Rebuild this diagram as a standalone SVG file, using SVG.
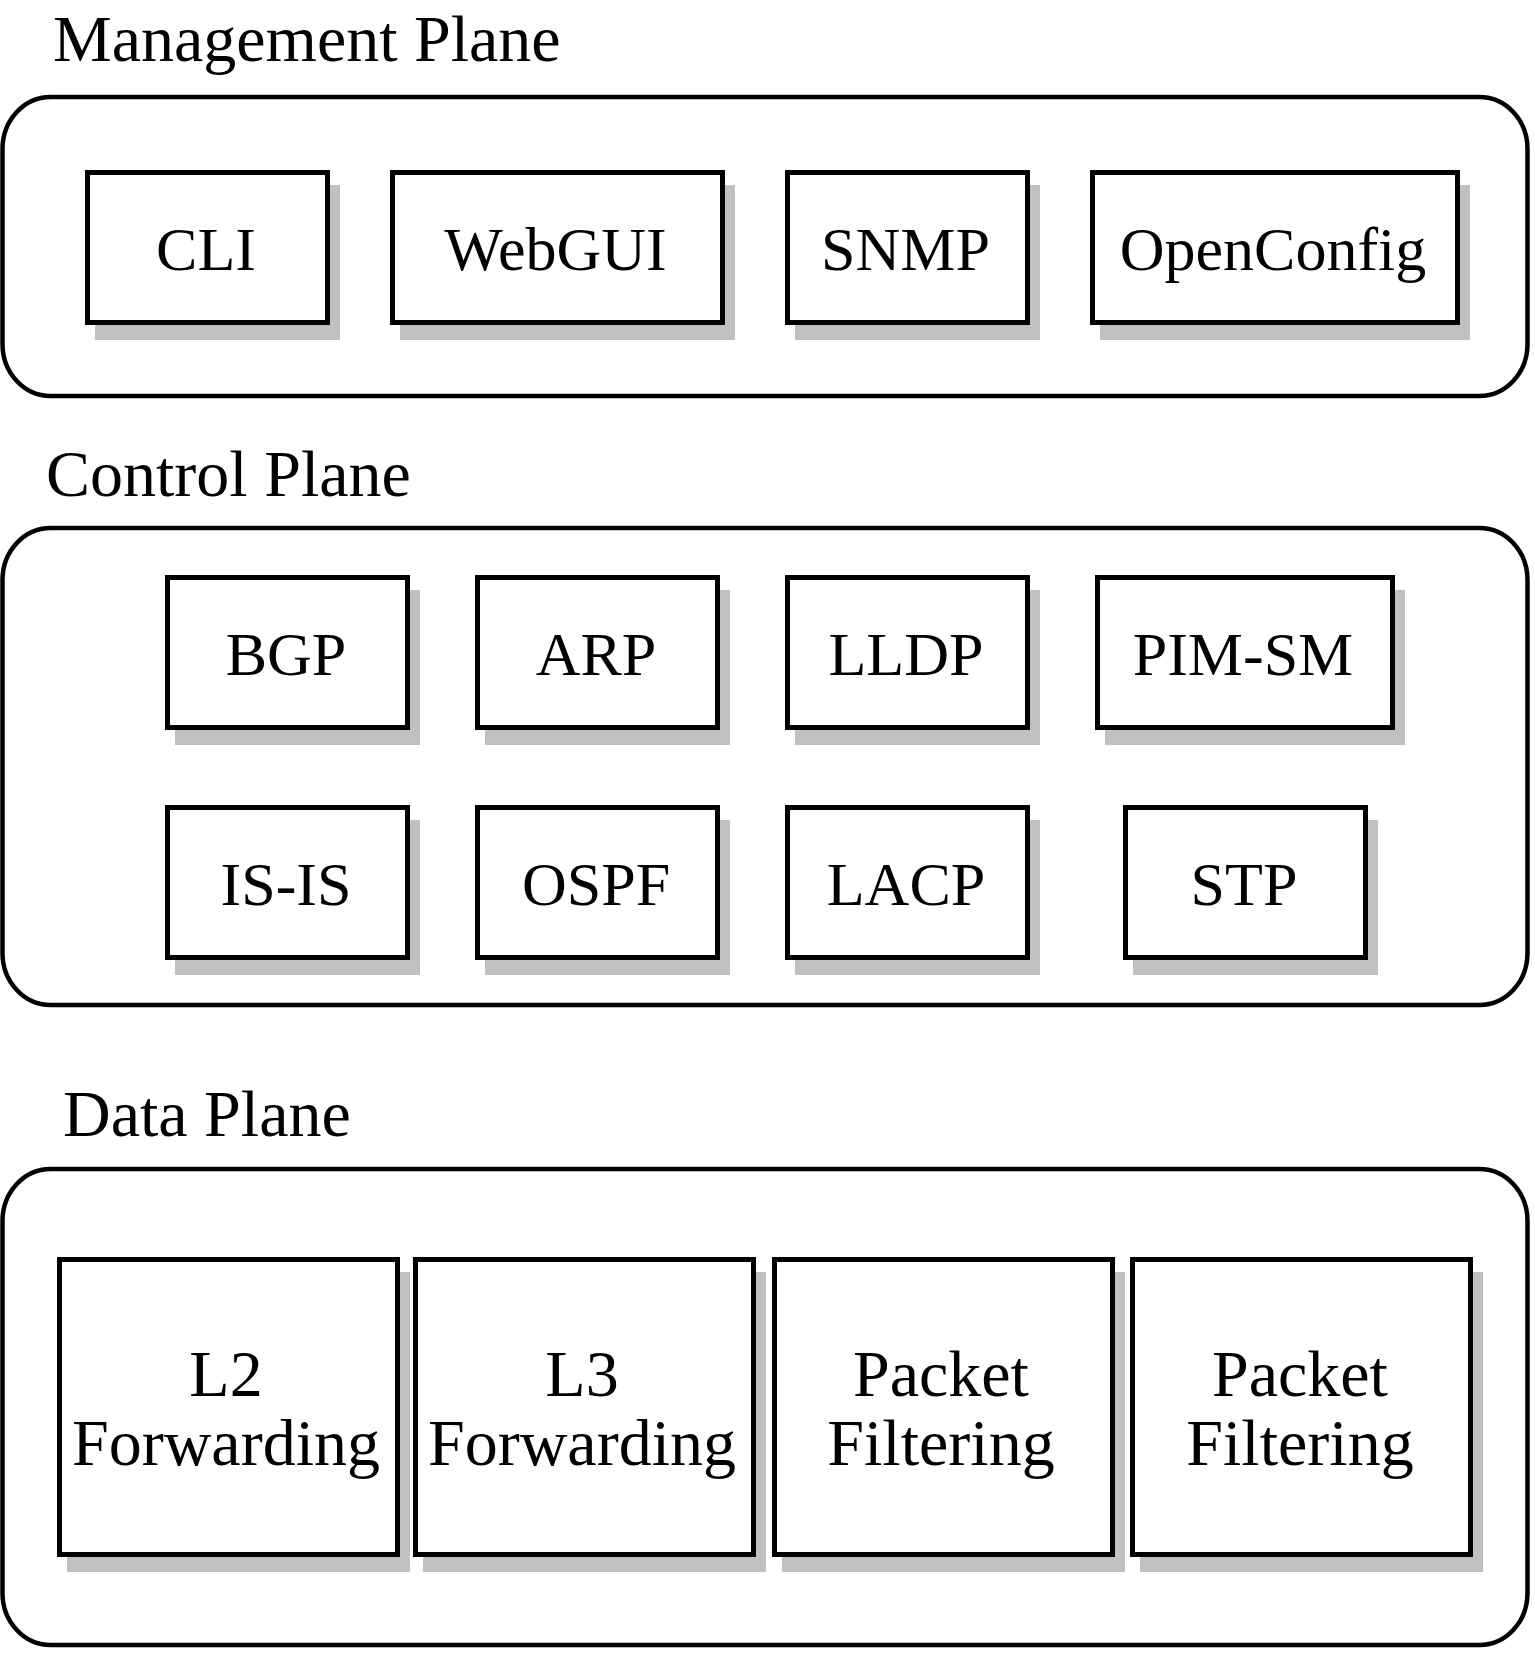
<svg xmlns="http://www.w3.org/2000/svg" width="1535" height="1655" viewBox="0 0 1535 1655">
<style>
.plane{fill:#fff;stroke:#000;stroke-width:4.5}
.box{fill:#fff;stroke:#000;stroke-width:5}
.shadow{fill:#c0c0c0}
.title{font-family:"Liberation Serif","Times New Roman",serif;font-size:66px;fill:#000}
.lbl{font-family:"Liberation Serif","Times New Roman",serif;font-size:62px;fill:#000;text-anchor:middle}
.dlbl{font-family:"Liberation Serif","Times New Roman",serif;font-size:66px;fill:#000;text-anchor:middle}
</style>
<rect width="1535" height="1655" fill="#fff"/>

<g id="management-plane">
<text class="title" x="53" y="61">Management Plane</text>
<rect class="plane" x="2.5" y="97" width="1525" height="299" rx="48" ry="52"/>
</g>
<g id="control-plane">
<text class="title" x="46" y="496">Control Plane</text>
<rect class="plane" x="2.5" y="528" width="1525" height="477" rx="48" ry="52"/>
</g>
<g id="data-plane">
<text class="title" x="63" y="1136">Data Plane</text>
<rect class="plane" x="2.5" y="1169" width="1525" height="476" rx="48" ry="52"/>
</g>

<g id="connectors"></g>

<g id="cli"><rect class="shadow" x="95" y="185" width="245" height="155"/><rect class="box" x="87.5" y="172.5" width="240" height="150"/><text class="lbl" x="206" y="270">CLI</text></g>
<g id="webgui"><rect class="shadow" x="400" y="185" width="335" height="155"/><rect class="box" x="392.5" y="172.5" width="330" height="150"/><text class="lbl" x="555.5" y="270">WebGUI</text></g>
<g id="snmp"><rect class="shadow" x="795" y="185" width="245" height="155"/><rect class="box" x="787.5" y="172.5" width="240" height="150"/><text class="lbl" x="905.5" y="270">SNMP</text></g>
<g id="openconfig"><rect class="shadow" x="1100" y="185" width="370" height="155"/><rect class="box" x="1092.5" y="172.5" width="365" height="150"/><text class="lbl" x="1273" y="270">OpenConfig</text></g>

<g id="bgp"><rect class="shadow" x="175" y="590" width="245" height="155"/><rect class="box" x="167.5" y="577.5" width="240" height="150"/><text class="lbl" x="286" y="675">BGP</text></g>
<g id="arp"><rect class="shadow" x="485" y="590" width="245" height="155"/><rect class="box" x="477.5" y="577.5" width="240" height="150"/><text class="lbl" x="596" y="675">ARP</text></g>
<g id="lldp"><rect class="shadow" x="795" y="590" width="245" height="155"/><rect class="box" x="787.5" y="577.5" width="240" height="150"/><text class="lbl" x="906" y="675">LLDP</text></g>
<g id="pim-sm"><rect class="shadow" x="1105" y="590" width="300" height="155"/><rect class="box" x="1097.5" y="577.5" width="295" height="150"/><text class="lbl" x="1243" y="675">PIM-SM</text></g>

<g id="is-is"><rect class="shadow" x="175" y="820" width="245" height="155"/><rect class="box" x="167.5" y="807.5" width="240" height="150"/><text class="lbl" x="286" y="905">IS-IS</text></g>
<g id="ospf"><rect class="shadow" x="485" y="820" width="245" height="155"/><rect class="box" x="477.5" y="807.5" width="240" height="150"/><text class="lbl" x="596" y="905">OSPF</text></g>
<g id="lacp"><rect class="shadow" x="795" y="820" width="245" height="155"/><rect class="box" x="787.5" y="807.5" width="240" height="150"/><text class="lbl" x="906" y="905">LACP</text></g>
<g id="stp"><rect class="shadow" x="1133" y="820" width="245" height="155"/><rect class="box" x="1125.5" y="807.5" width="240" height="150"/><text class="lbl" x="1244" y="905">STP</text></g>

<g id="l2-forwarding"><rect class="shadow" x="67" y="1272" width="343" height="300"/><rect class="box" x="59.5" y="1259.5" width="338" height="295"/><text class="dlbl" x="226" y="1396">L2</text><text class="dlbl" x="226" y="1465">Forwarding</text></g>
<g id="l3-forwarding"><rect class="shadow" x="423" y="1272" width="343" height="300"/><rect class="box" x="415.5" y="1259.5" width="338" height="295"/><text class="dlbl" x="582" y="1396">L3</text><text class="dlbl" x="582" y="1465">Forwarding</text></g>
<g id="packet-filtering-1"><rect class="shadow" x="782" y="1272" width="343" height="300"/><rect class="box" x="774.5" y="1259.5" width="338" height="295"/><text class="dlbl" x="941" y="1396">Packet</text><text class="dlbl" x="941" y="1465">Filtering</text></g>
<g id="packet-filtering-2"><rect class="shadow" x="1140" y="1272" width="343" height="300"/><rect class="box" x="1132.5" y="1259.5" width="338" height="295"/><text class="dlbl" x="1300" y="1396">Packet</text><text class="dlbl" x="1300" y="1465">Filtering</text></g>
</svg>
